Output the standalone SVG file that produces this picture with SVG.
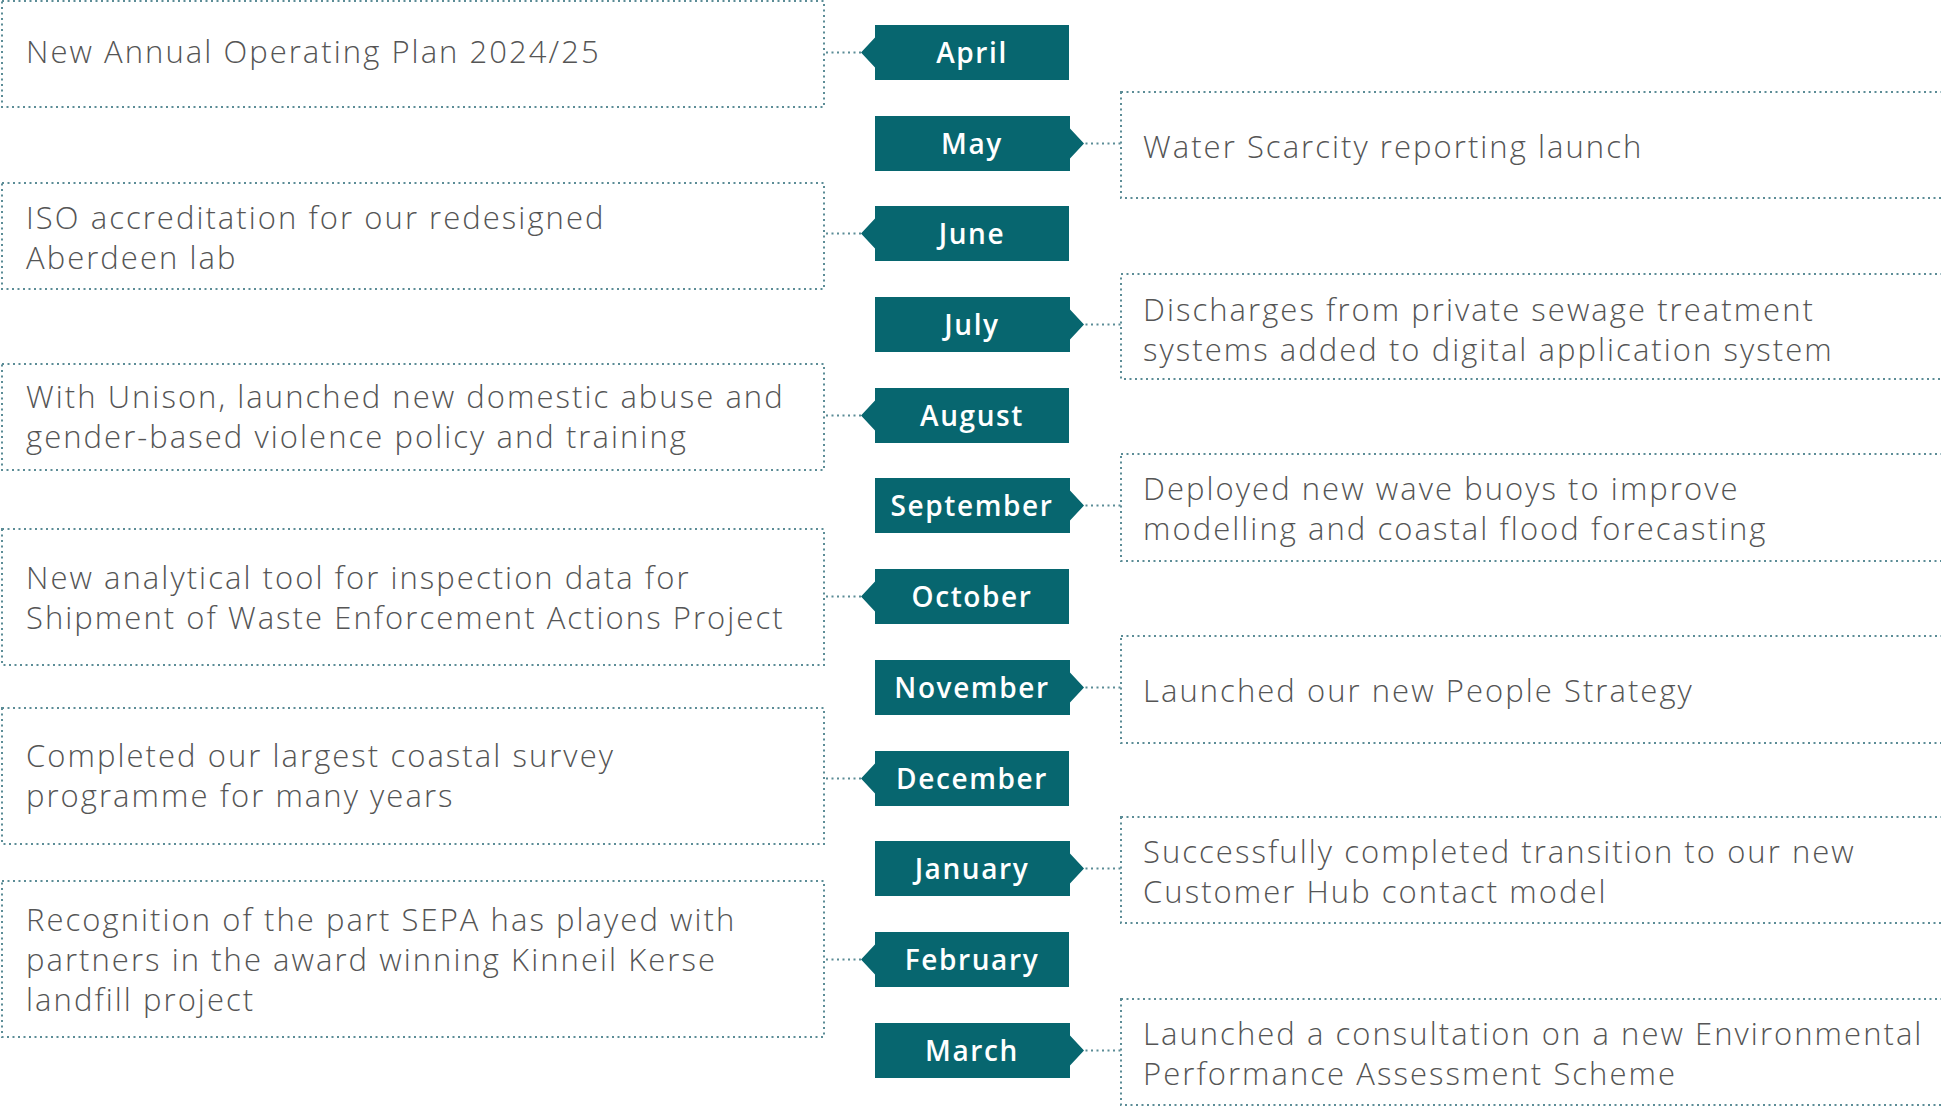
<svg xmlns="http://www.w3.org/2000/svg" width="1941" height="1106" viewBox="0 0 1941 1106">
<defs>
<style>
.box{fill:none;stroke:#5b8c96;stroke-width:2;stroke-dasharray:2 3.5}
.con{fill:none;stroke:#5b8c96;stroke-width:2;stroke-dasharray:2 3.5}
.tag{fill:#07666f}
.tt{font-family:"Open Sans","Liberation Sans",sans-serif;font-size:28px;font-weight:600;letter-spacing:1.6px;fill:#ffffff;text-anchor:middle}
.bt{font-family:"Open Sans","Liberation Sans",sans-serif;font-size:31px;font-weight:300;letter-spacing:2.05px;fill:#555555}
</style>
</defs>
<rect width="1941" height="1106" fill="#ffffff"/>
<g id="connectors">
<line class="con" x1="826" y1="52.5" x2="870" y2="52.5"/>
<line class="con" x1="1080" y1="143.5" x2="1121" y2="143.5"/>
<line class="con" x1="826" y1="233.5" x2="870" y2="233.5"/>
<line class="con" x1="1080" y1="324.5" x2="1121" y2="324.5"/>
<line class="con" x1="826" y1="415.5" x2="870" y2="415.5"/>
<line class="con" x1="1080" y1="505.5" x2="1121" y2="505.5"/>
<line class="con" x1="826" y1="596.5" x2="870" y2="596.5"/>
<line class="con" x1="1080" y1="687.5" x2="1121" y2="687.5"/>
<line class="con" x1="826" y1="778.5" x2="870" y2="778.5"/>
<line class="con" x1="1080" y1="868.5" x2="1121" y2="868.5"/>
<line class="con" x1="826" y1="959.5" x2="870" y2="959.5"/>
<line class="con" x1="1080" y1="1050.5" x2="1121" y2="1050.5"/>
</g>
<g id="box-april"><rect class="box" x="2" y="1" width="822" height="106"/><text class="bt" x="26" y="63">New Annual Operating Plan 2024/25</text></g>
<g id="box-may"><rect class="box" x="1121" y="92" width="830" height="106"/><text class="bt" x="1143" y="158">Water Scarcity reporting launch</text></g>
<g id="box-june"><rect class="box" x="2" y="183" width="822" height="106"/><text class="bt" x="26" y="229">ISO accreditation for our redesigned</text><text class="bt" x="26" y="269">Aberdeen lab</text></g>
<g id="box-july"><rect class="box" x="1121" y="274" width="830" height="105"/><text class="bt" x="1143" y="321">Discharges from private sewage treatment</text><text class="bt" x="1143" y="361">systems added to digital application system</text></g>
<g id="box-august"><rect class="box" x="2" y="364" width="822" height="106"/><text class="bt" x="26" y="408">With Unison, launched new domestic abuse and</text><text class="bt" x="26" y="448">gender-based violence policy and training</text></g>
<g id="box-september"><rect class="box" x="1121" y="454" width="830" height="107"/><text class="bt" x="1143" y="500">Deployed new wave buoys to improve</text><text class="bt" x="1143" y="540">modelling and coastal flood forecasting</text></g>
<g id="box-october"><rect class="box" x="2" y="529" width="822" height="136"/><text class="bt" x="26" y="589">New analytical tool for inspection data for</text><text class="bt" x="26" y="629">Shipment of Waste Enforcement Actions Project</text></g>
<g id="box-november"><rect class="box" x="1121" y="636" width="830" height="107"/><text class="bt" x="1143" y="702">Launched our new People Strategy</text></g>
<g id="box-december"><rect class="box" x="2" y="708" width="822" height="136"/><text class="bt" x="26" y="767">Completed our largest coastal survey</text><text class="bt" x="26" y="807">programme for many years</text></g>
<g id="box-january"><rect class="box" x="1121" y="817" width="830" height="106"/><text class="bt" x="1143" y="863">Successfully completed transition to our new</text><text class="bt" x="1143" y="903">Customer Hub contact model</text></g>
<g id="box-february"><rect class="box" x="2" y="881" width="822" height="156"/><text class="bt" x="26" y="931">Recognition of the part SEPA has played with</text><text class="bt" x="26" y="971">partners in the award winning Kinneil Kerse</text><text class="bt" x="26" y="1011">landfill project</text></g>
<g id="box-march"><rect class="box" x="1121" y="999" width="830" height="106"/><text class="bt" x="1143" y="1045">Launched a consultation on a new Environmental</text><text class="bt" x="1143" y="1085">Performance Assessment Scheme</text></g>
<g id="tag-april"><path class="tag" d="M875 25H1069V80H875V67.5L861 52.5L875 37.5Z"/><text class="tt" x="972" y="63">April</text></g>
<g id="tag-may"><path class="tag" d="M875 116H1070V128.5L1084 143.5L1070 158.5V171H875Z"/><text class="tt" x="972" y="154">May</text></g>
<g id="tag-june"><path class="tag" d="M875 206H1069V261H875V248.5L861 233.5L875 218.5Z"/><text class="tt" x="972" y="244">June</text></g>
<g id="tag-july"><path class="tag" d="M875 297H1070V309.5L1084 324.5L1070 339.5V352H875Z"/><text class="tt" x="972" y="335">July</text></g>
<g id="tag-august"><path class="tag" d="M875 388H1069V443H875V430.5L861 415.5L875 400.5Z"/><text class="tt" x="972" y="426">August</text></g>
<g id="tag-september"><path class="tag" d="M875 478H1070V490.5L1084 505.5L1070 520.5V533H875Z"/><text class="tt" x="972" y="516">September</text></g>
<g id="tag-october"><path class="tag" d="M875 569H1069V624H875V611.5L861 596.5L875 581.5Z"/><text class="tt" x="972" y="607">October</text></g>
<g id="tag-november"><path class="tag" d="M875 660H1070V672.5L1084 687.5L1070 702.5V715H875Z"/><text class="tt" x="972" y="698">November</text></g>
<g id="tag-december"><path class="tag" d="M875 751H1069V806H875V793.5L861 778.5L875 763.5Z"/><text class="tt" x="972" y="789">December</text></g>
<g id="tag-january"><path class="tag" d="M875 841H1070V853.5L1084 868.5L1070 883.5V896H875Z"/><text class="tt" x="972" y="879">January</text></g>
<g id="tag-february"><path class="tag" d="M875 932H1069V987H875V974.5L861 959.5L875 944.5Z"/><text class="tt" x="972" y="970">February</text></g>
<g id="tag-march"><path class="tag" d="M875 1023H1070V1035.5L1084 1050.5L1070 1065.5V1078H875Z"/><text class="tt" x="972" y="1061">March</text></g>
</svg>
